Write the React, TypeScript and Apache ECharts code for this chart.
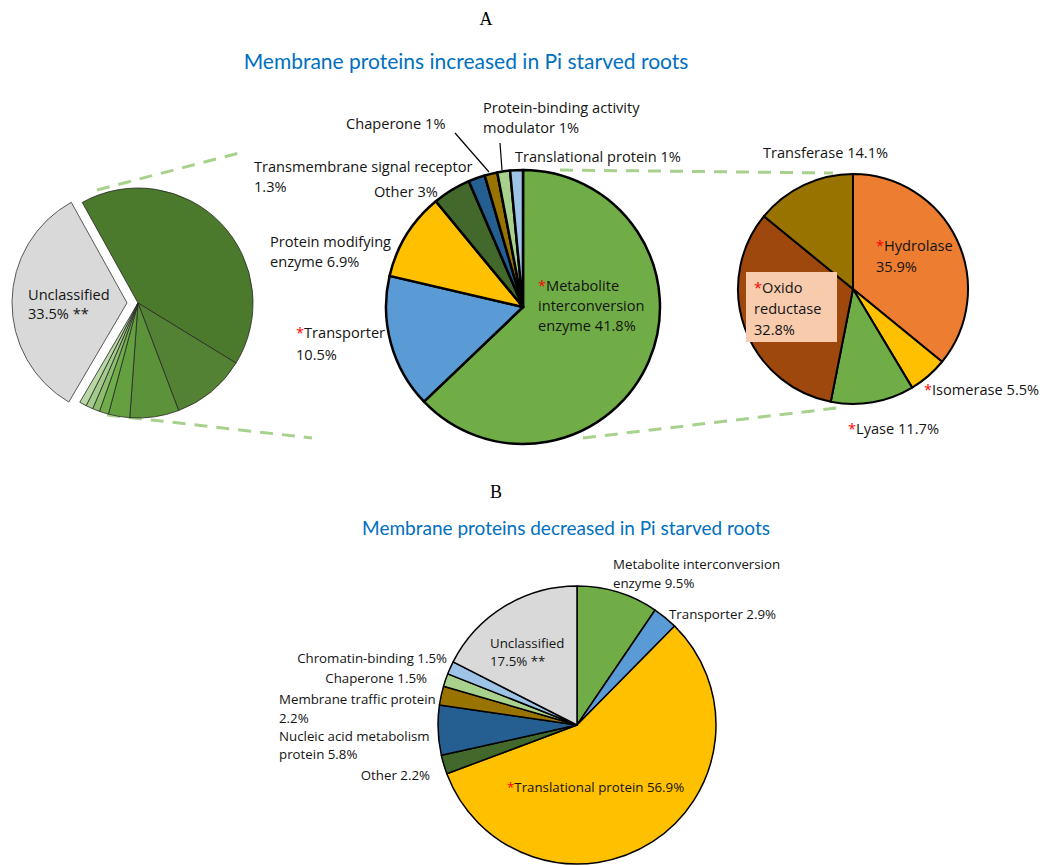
import React, { useEffect, useRef } from 'react';
import * as echarts from 'echarts';

const FONT = '"Open Sans", Lato, sans-serif';
const TITLE_FONT = 'Lato, "Open Sans", sans-serif';
const LABEL_SIZE = 14.6;
const SMALL_LABEL_SIZE = 13.3;

// Panel A – membrane proteins increased (percent of all proteins)
const increasedNames = [
  'Metabolite interconversion enzyme',
  'Transporter',
  'Protein modifying enzyme',
  'Other',
  'Transmembrane signal receptor',
  'Chaperone',
  'Protein-binding activity modulator',
  'Translational protein',
];
const increasedValues = [41.8, 10.5, 6.9, 3, 1.3, 1, 1, 1];
const increasedStarred = [true, true, false, false, false, false, false, false];
const increasedUnclassified = 33.5;

// Panel A – breakdown of metabolite interconversion enzymes
const enzymeNames = ['Hydrolase', 'Isomerase', 'Lyase', 'Oxido reductase', 'Transferase'];
const enzymeValues = [35.9, 5.5, 11.7, 32.8, 14.1];
const enzymeStarred = [true, true, true, true, false];

// Panel B – membrane proteins decreased
const decreasedNames = [
  'Metabolite interconversion enzyme',
  'Transporter',
  'Translational protein',
  'Other',
  'Nucleic acid metabolism protein',
  'Membrane traffic protein',
  'Chaperone',
  'Chromatin-binding',
  'Unclassified',
];
const decreasedValues = [9.5, 2.9, 56.9, 2.2, 5.8, 2.2, 1.5, 1.5, 17.5];
const decreasedStarred = [false, false, true, false, false, false, false, false, false];
const decreasedDoubleStar = [false, false, false, false, false, false, false, false, true];

// colours
const classColors = ['#70ad47', '#5b9bd5', '#ffc000', '#43682b', '#255e91', '#997300', '#a9d18e', '#9dc3e6'];
const overviewGreens = ['#4b7a2d', '#538234', '#5c9239', '#64a03f', '#70ad4a', '#8cbe6c', '#a3cb8b', '#b8d8a5'];
const enzymeColors = ['#ed7d31', '#ffc000', '#70ad47', '#9e480e', '#997300'];
const decreasedColors = ['#70ad47', '#5b9bd5', '#ffc000', '#43682b', '#255e91', '#997300', '#a9d18e', '#9dc3e6', '#d9d9d9'];

// label layout: x, top of first line, alignment, line breaks after word n
type Lay = { x: number; y: number; align?: 'left' | 'right'; breaks?: number[]; lh?: number };
const increasedLayout: Lay[] = [
  { x: 538, y: 275, breaks: [1, 2] },
  { x: 296, y: 321, breaks: [1], lh: 22 },
  { x: 270, y: 231, breaks: [2] },
  { x: 374, y: 181 },
  { x: 254, y: 156, breaks: [3] },
  { x: 346, y: 113 },
  { x: 483, y: 97, breaks: [2] },
  { x: 515, y: 146 },
];
const enzymeLayout: Lay[] = [
  { x: 876, y: 234, breaks: [1], lh: 21 },
  { x: 924, y: 379 },
  { x: 848, y: 418 },
  { x: 754, y: 276, breaks: [1, 2], lh: 21 },
  { x: 763, y: 142 },
];
const decreasedLayout: Lay[] = [
  { x: 613, y: 554, breaks: [2] },
  { x: 669, y: 604 },
  { x: 507, y: 777 },
  { x: 430, y: 765, align: 'right' },
  { x: 279, y: 727, breaks: [3], lh: 18 },
  { x: 279, y: 689, breaks: [3] },
  { x: 427, y: 668, align: 'right' },
  { x: 447, y: 648, align: 'right' },
  { x: 490, y: 634, breaks: [1], lh: 18 },
];

function labelText(name: string, value: number, breaks: number[] = [], star = false, suffix = '') {
  const words = `${name} ${value}%${suffix}`.split(' ');
  let out = '';
  words.forEach((w, i) => {
    if (i > 0) out += breaks.includes(i) ? '\n' : ' ';
    out += w;
  });
  return (star ? '{s|*}' : '') + out;
}

function textEl(text: string, lay: Lay, size: number, lhDefault: number) {
  const lh = lay.lh ?? lhDefault;
  return {
    type: 'text',
    z: 100,
    x: lay.x,
    y: lay.y,
    style: {
      text,
      fill: '#141414',
      fontFamily: FONT,
      fontSize: size,
      lineHeight: lh,
      align: lay.align ?? 'left',
      verticalAlign: 'top',
      rich: {
        s: { fill: '#ff0000', fontFamily: FONT, fontSize: size, lineHeight: lh },
      },
    },
  };
}

function dashed(x1: number, y1: number, x2: number, y2: number) {
  return {
    type: 'line',
    z: 1,
    shape: { x1, y1, x2, y2 },
    style: { stroke: '#a9d18e', lineWidth: 3, lineDash: [13, 9] },
  };
}

function leader(x1: number, y1: number, x2: number, y2: number) {
  return {
    type: 'line',
    z: 100,
    shape: { x1, y1, x2, y2 },
    style: { stroke: '#000', lineWidth: 1.2 },
  };
}

export default function App() {
  const ref = useRef<HTMLDivElement>(null);

  useEffect(() => {
    if (!ref.current) return;
    const chart = echarts.init(ref.current, undefined, { renderer: 'svg' });

    const pieBase = {
      type: 'pie',
      silent: true,
      label: { show: false },
      labelLine: { show: false },
      emphasis: { disabled: true },
    };

    const overviewData = [
      ...increasedNames.map((n, i) => ({
        name: n,
        value: increasedValues[i],
        itemStyle: { color: overviewGreens[i], borderColor: '#262626', borderWidth: 0.8 },
      })),
      {
        name: 'Unclassified',
        value: increasedUnclassified,
        selected: true,
        itemStyle: { color: '#d9d9d9', borderColor: '#595959', borderWidth: 1 },
        select: { itemStyle: { color: '#d9d9d9', borderColor: '#595959', borderWidth: 1 } },
      },
    ];

    const classData = increasedNames.map((n, i) => ({
      name: n,
      value: increasedValues[i],
      itemStyle: { color: classColors[i] },
    }));

    const enzymeData = enzymeNames.map((n, i) => ({
      name: n,
      value: enzymeValues[i],
      itemStyle: { color: enzymeColors[i] },
    }));

    const decreasedData = decreasedNames.map((n, i) => ({
      name: n,
      value: decreasedValues[i],
      itemStyle: { color: decreasedColors[i] },
    }));

    const graphics: any[] = [
      // panel letters and titles
      {
        type: 'text', z: 100, x: 486, y: 19,
        style: { text: 'A', fontFamily: '"Liberation Serif", serif', fontSize: 18, fill: '#000', align: 'center', verticalAlign: 'middle' },
      },
      {
        type: 'text', z: 100, x: 466, y: 60,
        style: { text: 'Membrane proteins increased in Pi starved roots', fontFamily: TITLE_FONT, fontSize: 21, fill: '#0070c0', align: 'center', verticalAlign: 'middle' },
      },
      {
        type: 'text', z: 100, x: 496, y: 492,
        style: { text: 'B', fontFamily: '"Liberation Serif", serif', fontSize: 18, fill: '#000', align: 'center', verticalAlign: 'middle' },
      },
      {
        type: 'text', z: 100, x: 566, y: 527,
        style: { text: 'Membrane proteins decreased in Pi starved roots', fontFamily: TITLE_FONT, fontSize: 19, fill: '#0070c0', align: 'center', verticalAlign: 'middle' },
      },
      // zoom connectors
      dashed(97, 190, 243, 152),
      dashed(107, 415, 312, 438),
      dashed(560, 170, 833, 173),
      dashed(583, 438, 837, 408),
      // leader lines
      leader(455, 133, 489, 172),
      leader(500, 143, 502, 170),
      // highlight box behind oxido reductase label
      { type: 'rect', z: 90, shape: { x: 746, y: 272, width: 91, height: 70 }, style: { fill: '#f8cbad' } },
      // unclassified label on the overview pie
      textEl(labelText('Unclassified', increasedUnclassified, [1], false, ' **'), { x: 28, y: 284 }, LABEL_SIZE, 19),
    ];

    increasedNames.forEach((n, i) => {
      const lay = increasedLayout[i];
      graphics.push(textEl(labelText(n, increasedValues[i], lay.breaks, increasedStarred[i]), lay, LABEL_SIZE, 20));
    });
    enzymeNames.forEach((n, i) => {
      const lay = enzymeLayout[i];
      graphics.push(textEl(labelText(n, enzymeValues[i], lay.breaks, enzymeStarred[i]), lay, LABEL_SIZE, 20));
    });
    decreasedNames.forEach((n, i) => {
      const lay = decreasedLayout[i];
      graphics.push(
        textEl(
          labelText(n, decreasedValues[i], lay.breaks, decreasedStarred[i], decreasedDoubleStar[i] ? ' **' : ''),
          lay,
          SMALL_LABEL_SIZE,
          19,
        ),
      );
    });

    chart.setOption({
      animation: false,
      backgroundColor: '#ffffff',
      series: [
        {
          ...pieBase,
          center: [138, 303],
          radius: 115,
          startAngle: 119,
          selectedMode: 'single',
          selectedOffset: 11,
          data: overviewData,
        },
        {
          ...pieBase,
          center: [523, 307],
          radius: 137,
          startAngle: 90,
          itemStyle: { borderColor: '#000', borderWidth: 2.5 },
          data: classData,
        },
        {
          ...pieBase,
          center: [853, 289],
          radius: 115,
          startAngle: 90,
          itemStyle: { borderColor: '#000', borderWidth: 2 },
          data: enzymeData,
        },
        {
          ...pieBase,
          center: [577, 725],
          radius: 139,
          startAngle: 90,
          itemStyle: { borderColor: '#000', borderWidth: 1.5 },
          data: decreasedData,
        },
      ],
      graphic: graphics,
    });

    return () => chart.dispose();
  }, []);

  return (
    <div
      ref={ref}
      style={{ position: 'absolute', left: 0, top: 0, width: 1046, height: 866 }}
    />
  );
}
